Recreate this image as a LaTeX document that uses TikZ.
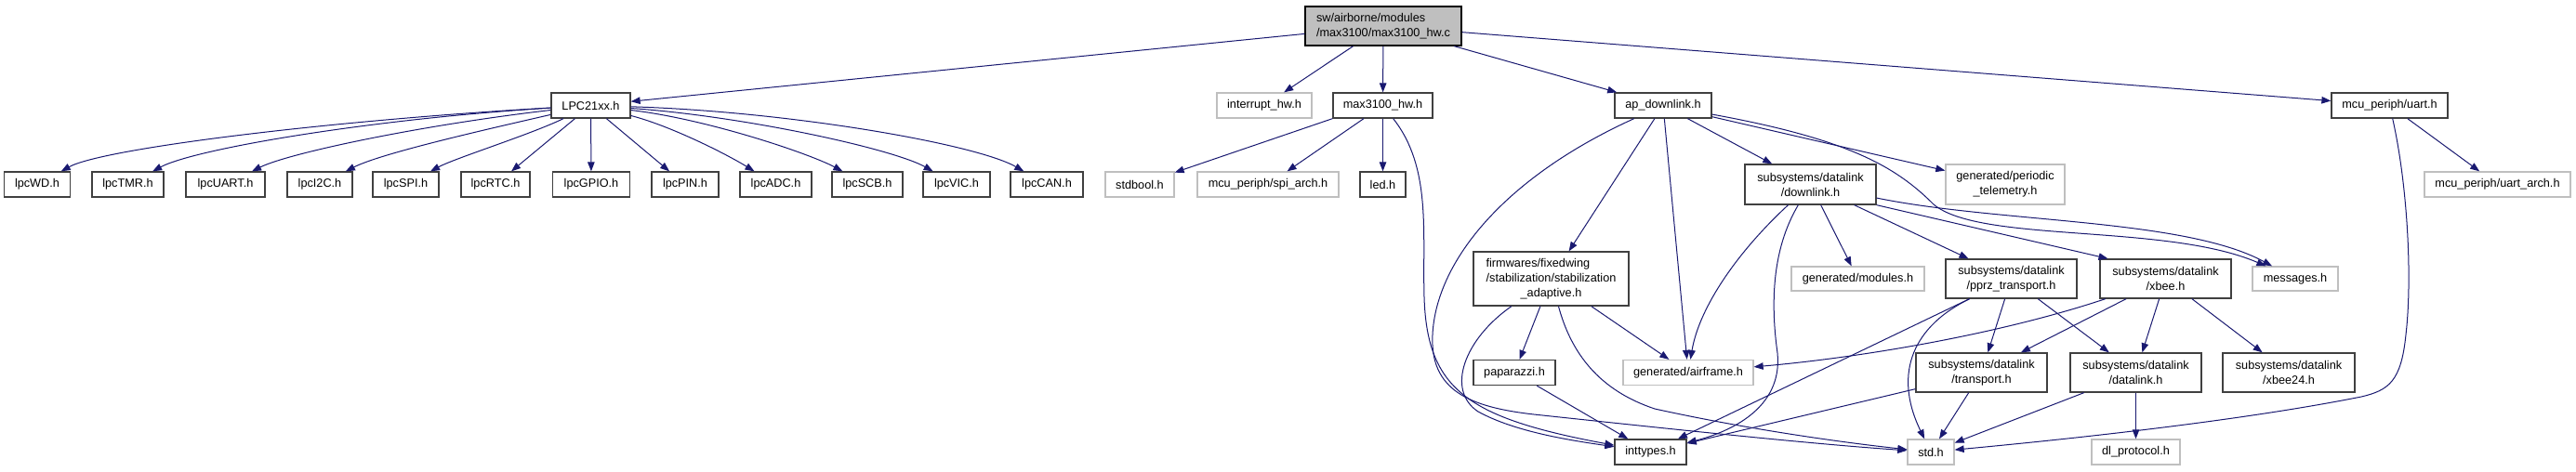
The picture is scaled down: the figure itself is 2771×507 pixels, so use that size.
\documentclass[tikz,border=0pt]{standalone}
\usepackage{fontspec}
\setmainfont{Liberation Sans}
\usepackage{calc}
\usetikzlibrary{arrows.meta}
\definecolor{edgec}{HTML}{191970}
\definecolor{boxc}{HTML}{404040}
\definecolor{greyc}{HTML}{BFBFBF}
\tikzset{
  nd/.style={draw=boxc, line width=1.3pt, fill=white, inner sep=0pt,
    font=\fontsize{12.7}{16}\selectfont, align=center},
  gr/.style={nd, draw=greyc},
  rt/.style={nd, draw=black, fill=greyc, align=left},
  sz/.style 2 args={minimum width=#1pt, minimum height=#2pt},
  e/.style={draw=edgec, line width=1pt, -{Triangle[length=10pt,width=7.5pt]}},
}
\begin{document}
\begin{tikzpicture}[x=1pt,y=-1pt]
\useasboundingbox (0,0) rectangle (2771,507);
% row 0
\node[rt, sz={168}{42}] (root) at (1488,28) {sw/airborne/modules\\/max3100/max3100\_hw.c};
% row 1
\node[nd, sz={85}{27}] (lpc) at (635.5,113.5) {LPC21xx.h};
\node[gr, sz={102}{27}] (intr) at (1360,113.5) {interrupt\_hw.h};
\node[nd, sz={107}{27}] (mx) at (1487.5,113.5) {max3100\_hw.h};
\node[nd, sz={104}{27}] (ap) at (1789,113.5) {ap\_downlink.h};
\node[nd, sz={125}{27}] (ua) at (2570.5,113.5) {mcu\_periph/uart.h};
% row 2
\node[nd, sz={71}{27}] (wd) at (40,198.5) {lpcWD.h};
\node[nd, sz={77}{27}] (tmr) at (137.5,198.5) {lpcTMR.h};
\node[nd, sz={85}{27}] (uart) at (242.5,198.5) {lpcUART.h};
\node[nd, sz={70}{27}] (itc) at (344,198.5) {lpcI2C.h};
\node[nd, sz={71}{27}] (spi) at (436.5,198.5) {lpcSPI.h};
\node[nd, sz={74}{27}] (rtc) at (533,198.5) {lpcRTC.h};
\node[nd, sz={83}{27}] (gpio) at (636,198.5) {lpcGPIO.h};
\node[nd, sz={72}{27}] (pin) at (737,198.5) {lpcPIN.h};
\node[nd, sz={77}{27}] (adc) at (834.5,198.5) {lpcADC.h};
\node[nd, sz={76}{27}] (scb) at (933,198.5) {lpcSCB.h};
\node[nd, sz={72}{27}] (vic) at (1029,198.5) {lpcVIC.h};
\node[nd, sz={78}{27}] (can) at (1126,198.5) {lpcCAN.h};
\node[gr, sz={74}{27}] (sb) at (1226,198.5) {stdbool.h};
\node[gr, sz={152}{27}] (spa) at (1364,198.5) {mcu\_periph/spi\_arch.h};
\node[nd, sz={49}{27}] (led) at (1487.5,198.5) {led.h};
\node[nd, sz={141}{43}] (dl) at (1947.5,198.5) {subsystems/datalink\\/downlink.h};
\node[gr, sz={128}{43}] (pt) at (2157,198.5) {generated/periodic\\\_telemetry.h};
\node[gr, sz={157}{27}] (uaa) at (2686.5,198.5) {mcu\_periph/uart\_arch.h};
% row 3
\node[nd, sz={167}{58}] (stab) at (1668.5,300) {\makebox[\widthof{/stabilization/stabilization}][l]{firmwares/fixedwing}\\/stabilization/stabilization\\\_adaptive.h};
\node[gr, sz={143}{26}] (mod) at (1998.5,300) {generated/modules.h};
\node[nd, sz={141}{42}] (pp) at (2163.5,300) {subsystems/datalink\\/pprz\_transport.h};
\node[nd, sz={141}{42}] (xb) at (2329.5,300) {subsystems/datalink\\/xbee.h};
\node[gr, sz={92}{26}] (msg) at (2469,300) {messages.h};
% row 4
\node[nd, sz={88}{27}] (pap) at (1629,401) {paparazzi.h};
\node[gr, sz={140}{27}] (af) at (1816,401) {generated/airframe.h};
\node[nd, sz={141}{42}] (tr) at (2131.5,401) {subsystems/datalink\\/transport.h};
\node[nd, sz={141}{42}] (dlk) at (2297.5,401) {subsystems/datalink\\/datalink.h};
\node[nd, sz={142}{42}] (xbb) at (2462,401) {subsystems/datalink\\/xbee24.h};
% row 5
\node[nd, sz={77}{27}] (it) at (1775.5,486.5) {inttypes.h};
\node[gr, sz={50}{27}] (st) at (2077,486.5) {std.h};
\node[gr, sz={95}{27}] (dlp) at (2297.5,486.5) {dl\_protocol.h};

% root edges
\draw[e] (root) -- (lpc);
\draw[e] (root) -- (intr);
\draw[e] (root) -- (mx);
\draw[e] (root) -- (ap);
\draw[e] (root) -- (ua);
% LPC21xx fan
\draw[e] (lpc) .. controls (350,130) and (110,160) .. (wd);
\draw[e] (lpc) .. controls (400,128) and (210,160) .. (tmr);
\draw[e] (lpc) .. controls (450,135) and (310,165) .. (uart);
\draw[e] (lpc) .. controls (520,140) and (410,165) .. (itc);
\draw[e] (lpc) .. controls (570,145) and (490,170) .. (spi);
\draw[e] (lpc) -- (rtc);
\draw[e] (lpc) -- (gpio);
\draw[e] (lpc) -- (pin);
\draw[e] (lpc) .. controls (720,135) and (780,165) .. (adc);
\draw[e] (lpc) .. controls (760,128) and (870,165) .. (scb);
\draw[e] (lpc) .. controls (800,125) and (960,160) .. (vic);
\draw[e] (lpc) .. controls (850,120) and (1050,155) .. (can);
% max3100_hw
\draw[e] (mx.south west) -- (sb);
\draw[e] (mx) -- (spa);
\draw[e] (mx) -- (led);
\draw[e] (mx) .. controls (1540,180) and (1530,250) .. (1532,320) .. controls (1535,420) and (1580,450) .. (it);
% ap_downlink
\draw[e] (ap) .. controls (1620,190) and (1545,280) .. (1541,360) .. controls (1538,420) and (1580,438) .. (1650,446) .. controls (1800,462) and (1950,478) .. (st);
\draw[e] (ap) -- (stab);
\draw[e] (ap) -- (af);
\draw[e] (ap) -- (dl);
\draw[e] (ap) -- (pt);
\draw[e] (ap) .. controls (1990,150) and (2040,180) .. (2080,220) .. controls (2130,262) and (2330,240) .. (msg);
% downlink
\draw[e] (dl) .. controls (2150,240) and (2350,235) .. (msg);
\draw[e] (dl.south east) -- ([xshift=-62pt]xb.north);
\draw[e] (dl) -- (pp);
\draw[e] (dl) -- (mod);
\draw[e] (dl) .. controls (1870,270) and (1828,330) .. (af);
\draw[e] (dl) .. controls (1905,270) and (1905,330) .. (1912,380) .. controls (1918,440) and (1860,465) .. (it);
% stabilization
\draw[e] (stab) -- (pap);
\draw[e] (stab) -- (af);
\draw[e] (stab) .. controls (1575,365) and (1555,420) .. (1590,443) .. controls (1630,465) and (1690,474) .. (it);
\draw[e] (stab) .. controls (1690,380) and (1720,420) .. (1780,440) .. controls (1880,462) and (1980,476) .. (st);
% paparazzi
\draw[e] (pap) -- (it);
% pprz_transport
\draw[e] (pp) .. controls (2060,350) and (2035,400) .. (st);
\draw[e] (pp) -- (it);
\draw[e] (pp) -- (tr);
\draw[e] (pp) -- (dlk);
% xbee
\draw[e] (xb) .. controls (2150,360) and (2000,385) .. (af);
\draw[e] (xb) -- (tr);
\draw[e] (xb) -- (dlk);
\draw[e] (xb) -- (xbb);
% transport
\draw[e] ([yshift=4pt]tr.south west) -- (it);
\draw[e] (tr) -- (st);
% datalink
\draw[e] (dlk) -- (st);
\draw[e] (dlk) -- (dlp);
% uart
\draw[e] (ua) -- (uaa);
\draw[e] (ua) .. controls (2590,200) and (2595,300) .. (2588,360) .. controls (2583,410) and (2570,420) .. (2540,427) .. controls (2400,455) and (2200,475) .. (st);
\end{tikzpicture}
\end{document}
